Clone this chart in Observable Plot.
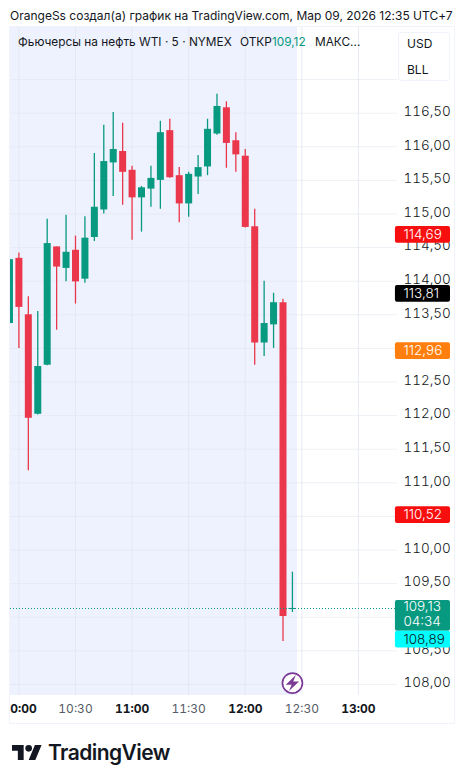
<!DOCTYPE html>
<html><head><meta charset="utf-8">
<script src="https://cdn.jsdelivr.net/npm/d3@7"></script>
<script src="https://cdn.jsdelivr.net/npm/@observablehq/plot@0.6"></script>
<style>
html,body{margin:0;padding:0;background:#fff;font-family:Inter,sans-serif;color:#131722}
#page{position:relative;width:464px;height:783px;overflow:hidden}
#frame{position:absolute;left:9px;top:26px;width:444px;height:696px;border:1px solid #f0f3fa}
#chart{position:absolute;left:0;top:27px}
#chart svg{background:transparent;display:block}
.abs{position:absolute;white-space:nowrap}
#credit{left:10px;top:8px;font-size:12px;line-height:15px;letter-spacing:.005px}
.leg{top:35px;font-size:11.85px;line-height:15px}
#box{left:398px;top:32px;width:50px;height:47px;background:#fff;border:1px solid #f0f3fa;border-radius:3px}
.unit{left:407px;font-size:12px;line-height:15px}
#logo{left:12px;top:745px}
#brand{left:48px;top:740px;font-size:21px;line-height:26px;font-weight:600;letter-spacing:-.55px;color:#131722}
</style></head><body>
<div id="page">
<div id="frame"></div>
<div id="chart"></div>
<div class="abs" id="credit">OrangeSs создал(а) график на TradingView.com, Мар 09, 2026 12:35 UTC+7</div>
<div class="abs leg" style="left:18px">Фьючерсы на нефть WTI · 5 · NYMEX</div>
<div class="abs leg" style="left:240px">ОТКР<span style="color:#089981">109,12</span></div>
<div class="abs leg" style="left:315px">МАКС...</div>
<div class="abs" id="box"></div>
<div class="abs unit" style="top:36px">USD</div>
<div class="abs unit" style="top:62px">BLL</div>
<svg class="abs" id="logo" width="30" height="15" viewBox="0 4 36 18" preserveAspectRatio="none"><path fill="#131722" d="M14 22H7V11H0V4h14v18zM28 22h-8l7.5-18h8L28 22z"/><circle fill="#131722" cx="20" cy="8" r="4"/></svg>
<div class="abs" id="brand">TradingView</div>
</div>
<script>
const times  = ["09:55","10:00","10:05","10:10","10:15","10:20","10:25","10:30","10:35","10:40","10:45","10:50","10:55","11:00","11:05","11:10","11:15","11:20","11:25","11:30","11:35","11:40","11:45","11:50","11:55","12:00","12:05","12:10","12:15","12:20","12:25"];
const opens  = [113.37,114.34,113.50,112.02,112.75,114.51,114.19,114.46,114.03,114.65,115.06,115.76,115.93,115.65,115.24,115.37,115.50,116.24,115.57,115.15,115.55,115.70,116.19,116.58,116.09,115.86,114.81,113.08,113.35,113.68,109.12];
const highs  = [114.34,114.42,113.77,113.55,114.92,114.51,114.98,114.67,114.96,115.90,116.32,116.51,116.35,115.71,115.41,115.71,116.38,116.41,115.69,115.62,115.87,116.41,116.78,116.67,116.21,115.96,115.07,114.00,113.82,113.73,109.67];
const lows   = [113.36,113.00,111.18,112.01,112.74,113.27,113.99,113.66,113.97,114.59,115.00,115.26,115.13,114.61,114.73,115.10,115.07,115.53,114.87,114.95,115.29,115.57,116.17,115.68,115.62,114.79,112.75,112.88,113.00,108.64,109.07];
const closes = [114.32,113.61,111.96,112.73,114.56,114.21,114.43,113.99,114.64,115.10,115.78,115.96,115.62,115.24,115.39,115.53,116.21,115.54,115.15,115.59,115.69,116.26,116.60,116.05,115.88,114.80,113.08,113.37,113.68,109.01,109.13];

const priceTicks = [108,108.5,109.5,110,111,111.5,112,112.5,113.5,114,114.5,115,115.5,116,116.5];
const hourTicks = ["11:00","12:00","13:00"];
const halfTicks = ["10:30","11:30","12:30"];
const clippedTick = ["10:00"];
const sessionEnd = "12:27:40";
const domainStart = "09:55:33", domainEnd = "13:20:42";
const labelStart = "13:19:36", labelEnd = "13:48:48";
const currentPrice = 109.13;

const flagLabels = ["114,69","113,81","112,96","110,52"];
const flagValues = [114.69,113.81,112.96,110.52];
const flagColors = ["#f70f0f","#000000","#ff7f0e","#f70f0f"];
const countdown = "04:34";
const askLabel = "108,89";

const green = "#089981", red = "#ea374b", grid = "#dfe4ef";
const T = s => new Date(`2026-03-09T${s.length === 5 ? s + ":00" : s}Z`);
const comma = v => v.toFixed(2).replace(".", ",");
const candles = times.map((t,i)=>({t:T(t),o:opens[i],h:highs[i],l:lows[i],c:closes[i]}));
const colorOf = d => d.c >= d.o ? green : red;
const flags = flagLabels.map((s,i)=>({s,v:flagValues[i],c:flagColors[i]}));
const labelX = {x1:()=>T(labelStart),x2:()=>T(labelEnd)};
const yMin = 107.835, yMax = 117.775;

const bolt = {draw(ctx,size){const k=Math.sqrt(size)/10;
  ctx.moveTo(2.6*k,-6*k);ctx.lineTo(-5*k,1.2*k);ctx.lineTo(-.6*k,1.2*k);ctx.lineTo(-2.6*k,6*k);ctx.lineTo(5*k,-1.2*k);ctx.lineTo(.6*k,-1.2*k);ctx.closePath();}};

const plot = Plot.plot({
  width:464,height:695,marginTop:0,marginBottom:27,marginLeft:10,marginRight:67,
  style:{fontFamily:"Inter, sans-serif",background:"transparent"},
  x:{type:"utc",domain:[T(domainStart),T(domainEnd)]},
  y:{domain:[yMin,yMax]},
  marks:[
    Plot.rect([0],{x1:()=>T(domainStart),x2:()=>T(sessionEnd),y1:()=>yMin,y2:()=>yMax,fill:"#eef2fe"}),
    Plot.ruleY([...priceTicks,109,110.5,113,117],{stroke:grid,strokeOpacity:.55,strokeWidth:1}),
    Plot.ruleX([...clippedTick,...halfTicks,...hourTicks].map(T),{stroke:grid,strokeOpacity:.75,strokeWidth:1}),
    Plot.ruleX(candles,{x:"t",y1:"l",y2:"h",stroke:colorOf,strokeWidth:1.3,clip:"frame"}),
    Plot.ruleX(candles,{x:"t",y1:"o",y2:"c",stroke:colorOf,strokeWidth:7,clip:"frame"}),
    Plot.ruleY([currentPrice],{stroke:green,strokeWidth:1,strokeDasharray:"1 2"}),
    Plot.ruleY([currentPrice],{x1:()=>T("12:23:10"),x2:()=>T("12:26:50"),stroke:green,strokeWidth:1}),
    Plot.dot([0],{x:()=>T("12:25"),y:()=>108.02,r:10,fill:"#fff",stroke:"#7b3a96",strokeWidth:1.7}),
    Plot.dot([0],{x:()=>T("12:25"),y:()=>108.02,symbol:bolt,r:7.5,fill:"#7b3a96",stroke:"none"}),
    Plot.axisY({anchor:"right",ticks:priceTicks,tickSize:0,tickPadding:6,tickFormat:comma,fontSize:13.5,fontWeight:300,fill:"#131722",label:null,dy:-1.5}),
    Plot.axisX({anchor:"bottom",ticks:hourTicks.map(T),tickSize:0,tickPadding:9,tickFormat:d3.utcFormat("%H:%M"),fontSize:12,fontWeight:700,fill:"#131722",label:null}),
    Plot.axisX({anchor:"bottom",ticks:halfTicks.map(T),tickSize:0,tickPadding:9,tickFormat:d3.utcFormat("%H:%M"),fontSize:12,fill:"#555b66",label:null}),
    Plot.axisX({anchor:"bottom",ticks:clippedTick.map(T),tickSize:0,tickPadding:9,tickFormat:()=>"0:00",fontSize:12,fontWeight:700,fill:"#131722",label:null,dx:4.6}),
    Plot.rect(flags,{...labelX,y1:d=>d.v-.125,y2:d=>d.v+.125,fill:"c",r:2}),
    Plot.rect([0],{...labelX,y1:()=>108.79,y2:()=>109.25,fill:green,r:2}),
    Plot.rect([0],{...labelX,y1:()=>108.54,y2:()=>108.79,fill:"#0ff",r:2}),
    Plot.text(flags,{x:()=>T(labelStart),y:"v",text:"s",fill:"#fff",fontSize:13.5,fontWeight:300,textAnchor:"start",dx:8}),
    Plot.text([comma(currentPrice)],{x:()=>T(labelStart),y:()=>109.15,text:d=>d,fill:"#fff",fontSize:13.5,fontWeight:300,textAnchor:"start",dx:8}),
    Plot.text([countdown],{x:()=>T(labelStart),y:()=>108.93,text:d=>d,fill:"#fff",fontSize:13.5,fontWeight:300,textAnchor:"start",dx:8}),
    Plot.text([askLabel],{x:()=>T(labelStart),y:()=>108.66,text:d=>d,fill:"#131722",fontSize:13.5,fontWeight:300,textAnchor:"start",dx:8})
  ]
});
document.getElementById("chart").appendChild(plot);
</script>
</body></html>
